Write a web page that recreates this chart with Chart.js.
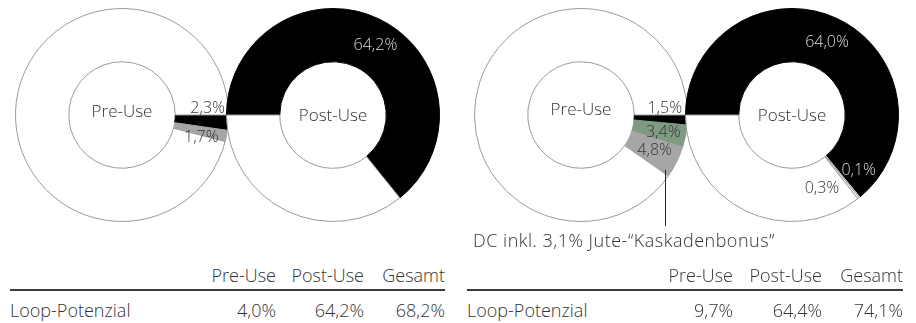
<!DOCTYPE html>
<html>
<head>
<meta charset="utf-8">
<script src="https://cdn.jsdelivr.net/npm/chart.js@4"></script>
<style>
  body { margin: 0; background: #fff; font-family: "Open Sans", sans-serif; font-weight: 300; color: #333; }
  #wrap { position: relative; width: 916px; height: 323px; overflow: hidden; }
  .donut { position: absolute; top: 8px; width: 214px; height: 240px; }
  .txt { position: absolute; font-size: 18px; line-height: 20px; white-space: nowrap; }
  .rule { position: absolute; height: 2px; background: #3c3c3c; }
</style>
</head>
<body>
<div id="wrap">
  <div class="donut" style="left:15px"><canvas id="leftPre"></canvas></div>
  <div class="donut" style="left:226px"><canvas id="leftPost"></canvas></div>
  <div class="donut" style="left:474px"><canvas id="rightPre"></canvas></div>
  <div class="donut" style="left:685px"><canvas id="rightPost"></canvas></div>
  <div class="txt" style="left:473px; top:230px; letter-spacing:0.5px">DC inkl. 3,1% Jute-“Kaskadenbonus”</div>
</div>
<script>
// slice values in percent (last one = rest of the circle)
const leftPreValues = [2.3, 1.7, 96.0];
const leftPostValues = [64.2, 35.8];
const rightPreValues = [1.5, 3.4, 4.8, 90.3];
const rightPostValues = [64.0, 0.1, 0.3, 35.6];

const tableColumns = ["Pre-Use", "Post-Use", "Gesamt"];
const rowLabel = "Loop-Potenzial";
const leftRow = ["4,0%", "64,2%", "68,2%"];
const rightRow = ["9,7%", "64,4%", "74,1%"];

const BLACK = "#000000";
const GREY = "#a6a6a6";
const GREEN = "#7f9b84";
const MINT = "#cfe2d5";
const EMPTY = "#ffffff";
const DARK = "#333333";
const LIGHT = "#dadada";

function fmt(v) {
  return v.toFixed(1).replace(".", ",") + "%";
}

const sliceLabels = {
  id: "sliceLabels",
  afterDatasetsDraw(chart, args, opts) {
    const c = chart.ctx;
    const arcs = chart.getDatasetMeta(0).data;
    const values = chart.data.datasets[0].data;
    c.save();
    c.textAlign = "center";
    c.textBaseline = "middle";
    c.font = "300 16px 'Open Sans'";
    arcs.forEach((arc, i) => {
      const o = opts.offsets[i];
      if (!o) return;
      const p = arc.getProps(["x", "y", "startAngle", "endAngle", "innerRadius", "outerRadius"], true);
      const a = (p.startAngle + p.endAngle) / 2;
      const r = (p.innerRadius + p.outerRadius) / 2;
      c.fillStyle = o[2];
      c.fillText(fmt(values[i]), p.x + r * Math.cos(a) + o[0], p.y + r * Math.sin(a) + o[1]);
    });
    c.font = "300 17px 'Open Sans'";
    c.fillStyle = DARK;
    c.fillText(opts.title, arcs[0].x, arcs[0].y + opts.titleDy);

    if (opts.leader != null) {
      const g = arcs[opts.leader].getProps(["x", "y", "endAngle", "outerRadius"], true);
      const a = g.endAngle - 0.03;
      const x = Math.round(g.x + (g.outerRadius - 6) * Math.cos(a)) + 0.5;
      c.strokeStyle = "#222";
      c.lineWidth = 1;
      c.beginPath();
      c.moveTo(x, g.y + (g.outerRadius - 6) * Math.sin(a));
      c.lineTo(x, g.y + 111);
      c.stroke();
    }
    c.restore();
  },
};

function makeDonut(id, values, colors, rotation, labelOpts) {
  const borders = colors.map((col) => (col === EMPTY ? "#9a9a9a" : col));
  return new Chart(document.getElementById(id), {
    type: "doughnut",
    data: {
      labels: values.map((v, i) => "s" + i),
      datasets: [
        {
          data: values,
          backgroundColor: colors,
          borderColor: borders,
          borderWidth: 1,
        },
      ],
    },
    options: {
      responsive: true,
      maintainAspectRatio: false,
      animation: false,
      events: [],
      cutout: "50%",
      rotation: rotation,
      layout: { padding: { top: 0, bottom: 26, left: 0, right: 0 } },
      plugins: {
        legend: { display: false },
        tooltip: { enabled: false },
        sliceLabels: labelOpts,
      },
    },
    plugins: [sliceLabels],
  });
}

makeDonut("leftPre", leftPreValues, [BLACK, GREY, EMPTY], 90, {
  title: "Pre-Use",
  titleDy: -3,
  offsets: [[6, -12, DARK], [1, 7, DARK]],
});
makeDonut("leftPost", leftPostValues, [BLACK, EMPTY], -90, {
  title: "Post-Use",
  titleDy: 1,
  offsets: [[8, 2, LIGHT]],
});
makeDonut("rightPre", rightPreValues, [BLACK, GREEN, GREY, EMPTY], 90, {
  title: "Pre-Use",
  titleDy: -5,
  offsets: [[4, -10, DARK], [4, 1, DARK], [2, 0, DARK]],
  leader: 2,
});
makeDonut("rightPost", rightPostValues, [BLACK, MINT, EMPTY, EMPTY], -90, {
  title: "Post-Use",
  titleDy: 1,
  offsets: [[1, 0, LIGHT], [16, -6, LIGHT], [-20, 11, DARK]],
});

// tables
const wrap = document.getElementById("wrap");
function addText(str, x, y, alignRight) {
  const d = document.createElement("div");
  d.className = "txt";
  d.textContent = str;
  d.style.top = y - 10 + "px";
  if (alignRight) d.style.right = 916 - x + "px";
  else d.style.left = x + "px";
  wrap.appendChild(d);
}
function addTable(left, right, colRights, row) {
  tableColumns.forEach((t, i) => addText(t, colRights[i], 275, true));
  const r = document.createElement("div");
  r.className = "rule";
  r.style.left = left + "px";
  r.style.width = right - left + "px";
  r.style.top = "289px";
  wrap.appendChild(r);
  addText(rowLabel, left, 310, false);
  row.forEach((t, i) => addText(t, colRights[i], 310, true));
}
addTable(10, 445, [276, 364, 445], leftRow);
addTable(467, 903, [733, 822, 903], rightRow);
</script>
</body>
</html>
